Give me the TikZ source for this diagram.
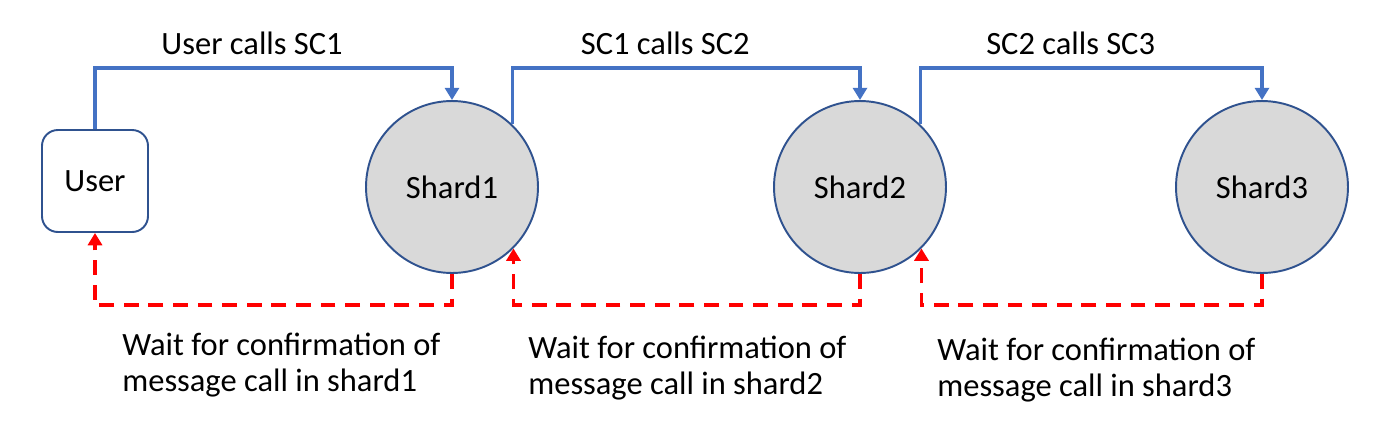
\documentclass[tikz,border=0pt]{standalone}
\usepackage{fontspec}
\setmainfont{Carlito}
\usetikzlibrary{arrows.meta}
\definecolor{callblue}{HTML}{4472C4}
\definecolor{ringblue}{HTML}{2F528F}
\definecolor{shardgray}{HTML}{D9D9D9}
\definecolor{waitred}{HTML}{FF0000}

\begin{document}
\begin{tikzpicture}[x=0.02cm,y=-0.02cm,font=\fontsize{18.5}{20.5}\selectfont,
		shard/.style={circle,draw=ringblue,fill=shardgray,line width=1.1pt,inner sep=0pt,minimum size=3.44cm},
		userbox/.style={draw=ringblue,line width=1.1pt,rounded corners=9pt,minimum width=2.12cm,minimum height=2.04cm},
		call/.style={draw=callblue,line width=2pt,-{Triangle[length=7pt,width=8pt]}},
		wait/.style={draw=waitred,line width=2.2pt,dash pattern=on 8.5pt off 5.5pt,-{Triangle[length=7pt,width=8pt]}},
		note/.style={anchor=west,align=left,inner sep=0pt}]
		\useasboundingbox (0,0) rectangle (1374,434);
		\node[userbox] (user) at (95,181) {User};
		\node[shard] (s1) at (452,187) {Shard1};
		\node[shard] (s2) at (860,187) {Shard2};
		\node[shard] (s3) at (1262,187) {Shard3};
		\coordinate (top) at (0,68);
		\coordinate (bot) at (0,305);
		\draw[call] (user.north) -- (user.north |- top) -| node[pos=0.22,above=3pt] {User calls SC1} (s1.north);
		\draw[call] (s1.46) -- (s1.46 |- top) -| node[pos=0.22,above=3pt] {SC1 calls SC2} (s2.north);
		\draw[call] (s2.46) -- (s2.46 |- top) -| node[pos=0.22,above=3pt] {SC2 calls SC3} (s3.north);
		\draw[wait] (s1.south) -- (s1.south |- bot) -| (user.south);
		\draw[wait] (s2.south) -- (s2.south |- bot) -| (s1.-45);
		\draw[wait] (s3.south) -- (s3.south |- bot) -| (s2.-45);
		\node[note] (w1) at (122,365) {Wait for confirmation of\\message call in shard1};
		\node[note] (w2) at (528,368) {Wait for confirmation of\\message call in shard2};
		\node[note] (w3) at (937,370) {Wait for confirmation of\\message call in shard3};
	\end{tikzpicture}
\end{document}
